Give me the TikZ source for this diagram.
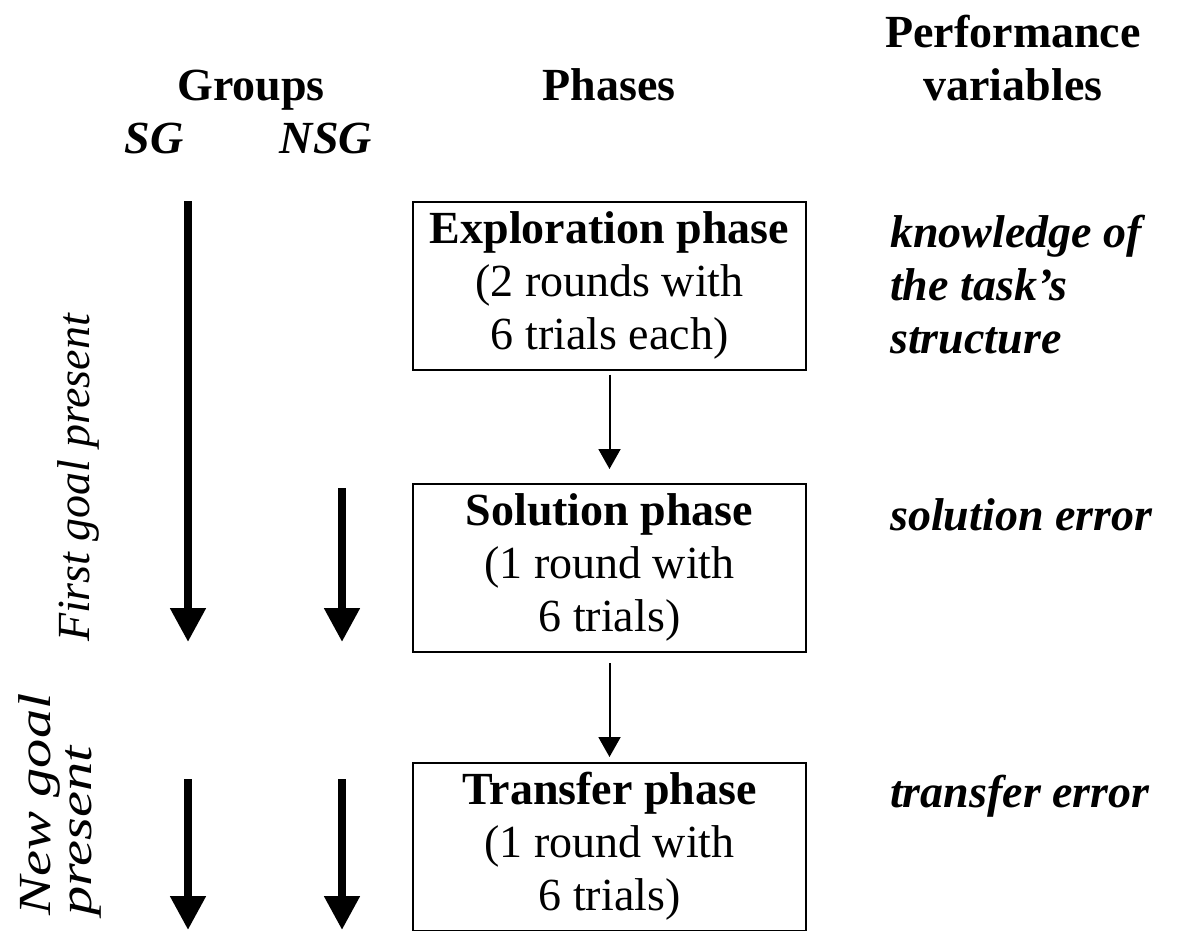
\documentclass[tikz,border=0pt]{standalone}
\usepackage{fontspec}
\setmainfont{Liberation Serif}
\usetikzlibrary{arrows.meta}
\begin{document}
\begin{tikzpicture}[x=1pt,y=-1pt,
  txt/.style={font=\fontsize{46}{53}\selectfont, inner sep=0pt},
  phasebox/.style={draw, line width=2pt, minimum width=393pt, minimum height=168pt,
    inner sep=0pt, font=\fontsize{46}{53}\selectfont},
  thickarrow/.style={line width=8pt, -{Triangle[width=34pt,length=34pt]}},
  thinarrow/.style={line width=2pt, -{Triangle[width=22pt,length=20pt]}}]
\useasboundingbox (0,0) rectangle (1181,930);
\clip (0,0) rectangle (1181,930);

% headers
\node[txt, anchor=base] (groups) at (251,100) {\bfseries Groups};
\node[txt, anchor=base] (phases) at (609,100) {\bfseries Phases};
\node[txt, anchor=base] (perf) at (1013,100)
  {\bfseries\begin{tabular}[b]{@{}c@{}}Performance\\variables\end{tabular}};
\node[txt, anchor=base] (sg) at (154,153) {\bfseries\itshape SG};
\node[txt, anchor=base] (nsg) at (326,153) {\bfseries\itshape NSG};

% phase boxes
\node[phasebox] (exp) at (609.5,285.5)
  {\begin{tabular}{@{}c@{}}\bfseries Exploration phase\\(2 rounds with\\6 trials each)\end{tabular}};
\node[phasebox] (sol) at (609.5,568)
  {\begin{tabular}{@{}c@{}}\bfseries Solution phase\\(1 round with\\6 trials)\end{tabular}};
\node[phasebox] (tra) at (609.5,847)
  {\begin{tabular}{@{}c@{}}\bfseries Transfer phase\\(1 round with\\6 trials)\end{tabular}};

\draw[thinarrow, shorten <=4pt, shorten >=14pt] (exp.south) -- (sol.north);
\draw[thinarrow, shorten <=10pt, shorten >=5pt] (sol.south) -- (tra.north);

% performance variables
\node[txt, anchor=base west] (know) at (890,247)
  {\bfseries\itshape\begin{tabular}[t]{@{}l@{}}knowledge of\\the task’s\\structure\end{tabular}};
\node[txt, anchor=base west] (solerr) at (890,530) {\bfseries\itshape solution error};
\node[txt, anchor=base west] (traerr) at (890,807) {\bfseries\itshape transfer error};

% group arrows
\coordinate (sg1s) at (188,201);
\coordinate (sg1e) at (188,642);
\coordinate (nsg1s) at (342,488);
\coordinate (nsg1e) at (342,642);
\coordinate (sg2s) at (188,779);
\coordinate (sg2e) at (188,930);
\coordinate (nsg2s) at (342,779);
\coordinate (nsg2e) at (342,930);
\draw[thickarrow] (sg1s) -- (sg1e);
\draw[thickarrow] (nsg1s) -- (nsg1e);
\draw[thickarrow] (sg2s) -- (sg2e);
\draw[thickarrow] (nsg2s) -- (nsg2e);

% rotated labels
\node[txt, rotate=90] (first) at (78,478) {\itshape First goal present};
\node[txt, rotate=90, anchor=north west] (newgoal) at (18,916)
  {\itshape\scalebox{1.27}[1]{\fontsize{46}{41}\selectfont\begin{tabular}{@{}l@{}}New goal\\present\end{tabular}}};
\end{tikzpicture}
\end{document}
